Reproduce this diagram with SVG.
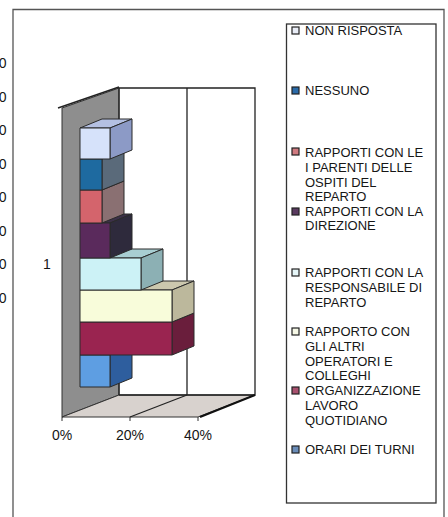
<svg xmlns="http://www.w3.org/2000/svg" width="448" height="517" viewBox="0 0 448 517">
<style>
text{font-family:"Liberation Sans",Arial,sans-serif;fill:#161616}
.lg{font-size:13px}
.ax{font-size:14px}
.edge{stroke:#2a2a2a;stroke-width:1;stroke-linejoin:round}
.grid{stroke:#222;stroke-width:1.3;fill:none}
.mk{stroke:#222;stroke-width:1.2}
</style>
<rect width="448" height="517" fill="#fff"/>
<g id="clipped-axis">
<text class="ax" x="6.5" y="68" text-anchor="end">0</text>
<text class="ax" x="6.5" y="101.5" text-anchor="end">0</text>
<text class="ax" x="6.5" y="135" text-anchor="end">0</text>
<text class="ax" x="6.5" y="168.5" text-anchor="end">0</text>
<text class="ax" x="6.5" y="202" text-anchor="end">0</text>
<text class="ax" x="6.5" y="235.5" text-anchor="end">0</text>
<text class="ax" x="6.5" y="269" text-anchor="end">0</text>
<text class="ax" x="6.5" y="302.5" text-anchor="end">0</text>
</g>
<g id="frame">
<path d="M13,517 V9.5 H444 V517" fill="none" stroke="#555" stroke-width="1.3"/>
</g>
<g id="walls">
<polygon points="62,108 119,88 119,395 62,417" fill="#8e8e8e" stroke="#333" stroke-width="1"/>
<polygon points="62,417 198,417 255,395 119,395" fill="#d8d2ce" stroke="#333" stroke-width="1"/>
<line class="grid" x1="130" y1="417" x2="187" y2="395"/>
<path class="grid" d="M119,395 V88 H255 V395 H119"/>
<line class="grid" x1="187" y1="88" x2="187" y2="395"/>
<line x1="200" y1="417" x2="255" y2="395" stroke="#111" stroke-width="2"/>
<line x1="58" y1="108" x2="119" y2="87" stroke="#222" stroke-width="1.5"/>
<path d="M62,417 v4 M130,417 v4 M198,417 v4" stroke="#333" stroke-width="1"/>
</g>
<g id="bars">
<g id="bar-orari">
<polygon class="edge" points="110,355 132,346 132,378 110,387" fill="#2e5e9e"/>
<rect class="edge" x="80" y="355" width="30" height="32" fill="#5e9ee2"/>
</g>
<g id="bar-organizzazione">
<polygon class="edge" points="80,322 172,322 194,313 102,313" fill="#7a2244"/>
<polygon class="edge" points="172,322 194,313 194,346 172,355" fill="#6a1e3c"/>
<rect class="edge" x="80" y="322" width="92" height="33" fill="#9a2450"/>
</g>
<g id="bar-colleghi">
<polygon class="edge" points="80,290 172,290 194,281 102,281" fill="#ccc8ae"/>
<polygon class="edge" points="172,290 194,281 194,313 172,322" fill="#bcb89c"/>
<rect class="edge" x="80" y="290" width="92" height="32" fill="#f8fcda"/>
</g>
<g id="bar-responsabile">
<polygon class="edge" points="80,258 141,258 163,249 102,249" fill="#a8ced2"/>
<polygon class="edge" points="141,258 163,249 163,281 141,290" fill="#8cb0b4"/>
<rect class="edge" x="80" y="258" width="61" height="32" fill="#ccf2f6"/>
</g>
<g id="bar-direzione">
<polygon class="edge" points="80,223 110,223 132,214 102,214" fill="#3c3048"/>
<polygon class="edge" points="110,223 132,214 132,249 110,258" fill="#2e2a3c"/>
<rect class="edge" x="80" y="223" width="30" height="35" fill="#5a2a5c"/>
</g>
<g id="bar-parenti">
<polygon class="edge" points="102,190 124,181 124,214 102,223" fill="#8a7072"/>
<rect class="edge" x="80" y="190" width="22" height="33" fill="#d4646c"/>
</g>
<g id="bar-nessuno">
<polygon class="edge" points="102,159 124,150 124,181 102,190" fill="#5a6a7a"/>
<rect class="edge" x="80" y="159" width="22" height="31" fill="#1e6aa0"/>
</g>
<g id="bar-non-risposta">
<polygon class="edge" points="80,128 110,128 132,119 102,119" fill="#b4c0e2"/>
<polygon class="edge" points="110,128 132,119 132,150 110,159" fill="#8c9ac6"/>
<rect class="edge" x="80" y="128" width="30" height="31" fill="#d6e2fa"/>
</g>
</g>
<g id="axis-labels">
<text class="ax" x="47" y="269" text-anchor="middle" font-size="13">1</text>
<text class="ax" x="62" y="440" text-anchor="middle">0%</text>
<text class="ax" x="130" y="440" text-anchor="middle">20%</text>
<text class="ax" x="198" y="440" text-anchor="middle">40%</text>
</g>
<g id="legend">
<rect x="286.5" y="24" width="149.5" height="479" fill="#fff" stroke="#333" stroke-width="1.3"/>
<g id="lg-non-risposta">
<rect class="mk" x="292" y="27" width="7" height="7" fill="#e8ecf6"/>
<text class="lg" x="305" y="35">NON RISPOSTA</text>
</g>
<g id="lg-nessuno">
<rect class="mk" x="292" y="87" width="7" height="7" fill="#2a6aa8"/>
<text class="lg" x="305" y="95">NESSUNO</text>
</g>
<g id="lg-parenti">
<rect class="mk" x="292" y="148" width="7" height="7" fill="#d07a80"/>
<text class="lg" x="305" y="157">RAPPORTI CON LE</text>
<text class="lg" x="305" y="172">I PARENTI DELLE</text>
<text class="lg" x="305" y="187">OSPITI DEL</text>
<text class="lg" x="305" y="201">REPARTO</text>
</g>
<g id="lg-direzione">
<rect class="mk" x="292" y="208" width="7" height="7" fill="#5a3a60"/>
<text class="lg" x="305" y="216">RAPPORTI CON LA</text>
<text class="lg" x="305" y="230">DIREZIONE</text>
</g>
<g id="lg-responsabile">
<rect class="mk" x="292" y="269" width="7" height="7" fill="#e6f6f8"/>
<text class="lg" x="305" y="277">RAPPORTI CON LA</text>
<text class="lg" x="305" y="292">RESPONSABILE DI</text>
<text class="lg" x="305" y="307">REPARTO</text>
</g>
<g id="lg-colleghi">
<rect class="mk" x="292" y="328" width="7" height="7" fill="#f6f8e6"/>
<text class="lg" x="305" y="336">RAPPORTO CON</text>
<text class="lg" x="305" y="351">GLI ALTRI</text>
<text class="lg" x="305" y="366">OPERATORI E</text>
<text class="lg" x="305" y="380">COLLEGHI</text>
</g>
<g id="lg-organizzazione">
<rect class="mk" x="292" y="387" width="7" height="7" fill="#a8506e"/>
<text class="lg" x="305" y="395">ORGANIZZAZIONE</text>
<text class="lg" x="305" y="410">LAVORO</text>
<text class="lg" x="305" y="425">QUOTIDIANO</text>
</g>
<g id="lg-orari">
<rect class="mk" x="292" y="446" width="7" height="7" fill="#6a8cb8"/>
<text class="lg" x="305" y="454">ORARI DEI TURNI</text>
</g>
</g>
</svg>
